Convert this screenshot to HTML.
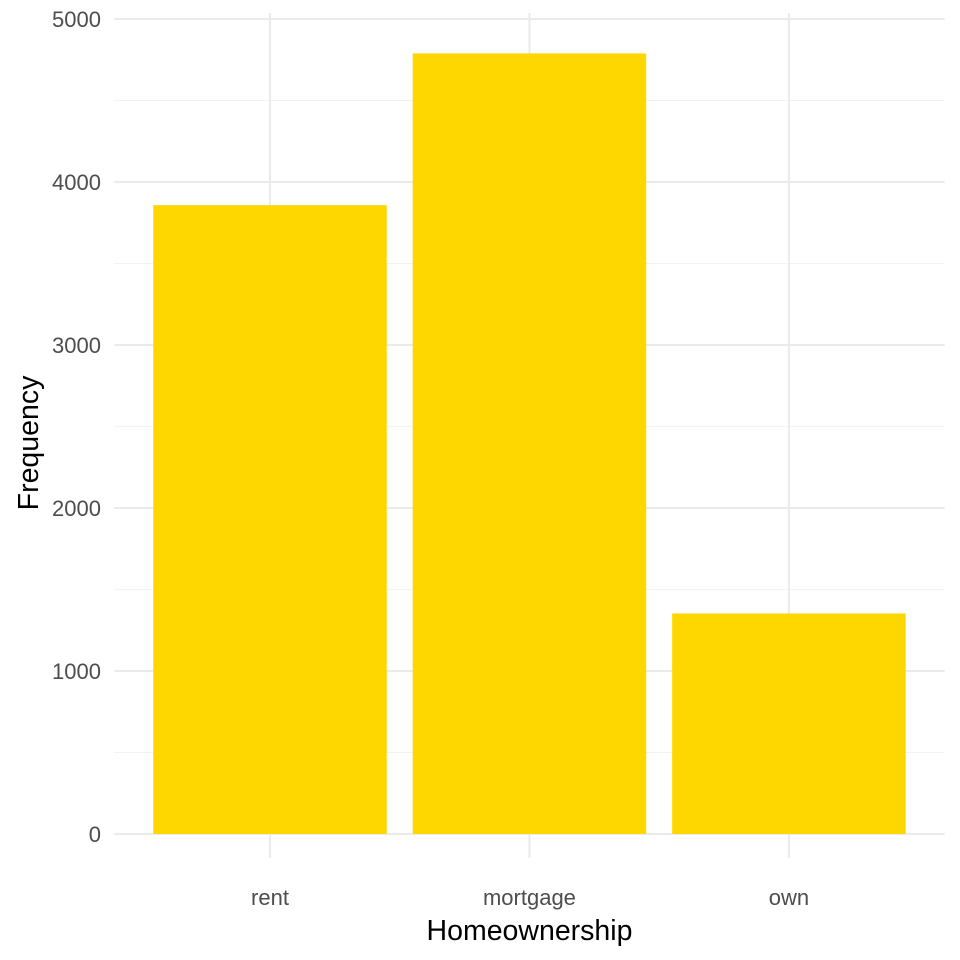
<!DOCTYPE html>
<html><head><meta charset="utf-8"><style>body{margin:0;background:#fff}svg{display:block;font-family:"Liberation Sans",Arial,sans-serif}</style></head>
<body>
<svg id="chart" width="960" height="960" xmlns="http://www.w3.org/2000/svg"></svg>
<script>
const categories = ["rent","mortgage","own"];
const counts = [3858, 4789, 1353];
const yTicks = [0,1000,2000,3000,4000,5000];
const yMinor = [500,1500,2500,3500,4500];

const svg = document.getElementById('chart');
const NS = 'http://www.w3.org/2000/svg';
const left = 114.3, right = 944.6, top0 = 19, bottom0 = 834;
const step = (right-left)/3.2;
function x(i){ return left + (i+1-0.4)*step; }
function y(v){ return bottom0 - v*(bottom0-top0)/5000; }
function mk(tag, attrs, parent){ const e=document.createElementNS(NS,tag); for(const k in attrs) e.setAttribute(k,attrs[k]); (parent||svg).appendChild(e); return e; }

const grid = mk('g',{});


yMinor.forEach(v=>{ const l=mk('line',{x1:left,x2:right,y1:y(v),y2:y(v),stroke:'#f3f3f3','stroke-width':1.1},grid);
   });
yTicks.forEach(v=>{ const l=mk('line',{x1:left,x2:right,y1:y(v),y2:y(v),stroke:'#ebebeb','stroke-width':2.1},grid);
   });
categories.forEach((c,i)=>{ const l=mk('line',{x1:x(i),x2:x(i),y1:top0-6,y2:bottom0+24,stroke:'#ebebeb','stroke-width':2.1},grid);
   });

categories.forEach((c,i)=>{
  const w = step*0.9;
  const r = mk('rect',{x:x(i)-w/2,y:y(counts[i]),width:w,height:y(0)-y(counts[i]),fill:'#FFD700'});
  
  
  const t = mk('text',{x:x(i),y:905,'text-anchor':'middle','font-size':22,fill:'#4d4d4d'});
  t.textContent=c;
  
  
});
yTicks.forEach(v=>{
  const t = mk('text',{x:101,y:y(v)+8,'text-anchor':'end','font-size':22,fill:'#4d4d4d'});
  t.textContent=v;
  
  
});
const xt = mk('text',{x:529.5,y:940,'text-anchor':'middle','font-size':28.5,fill:'#000'});
xt.textContent='Homeownership';


const yt = mk('text',{x:0,y:0,transform:'translate(38,443) rotate(-90)','text-anchor':'middle','font-size':28.5,fill:'#000'});
yt.textContent='Frequency';


</script>
</body></html>
